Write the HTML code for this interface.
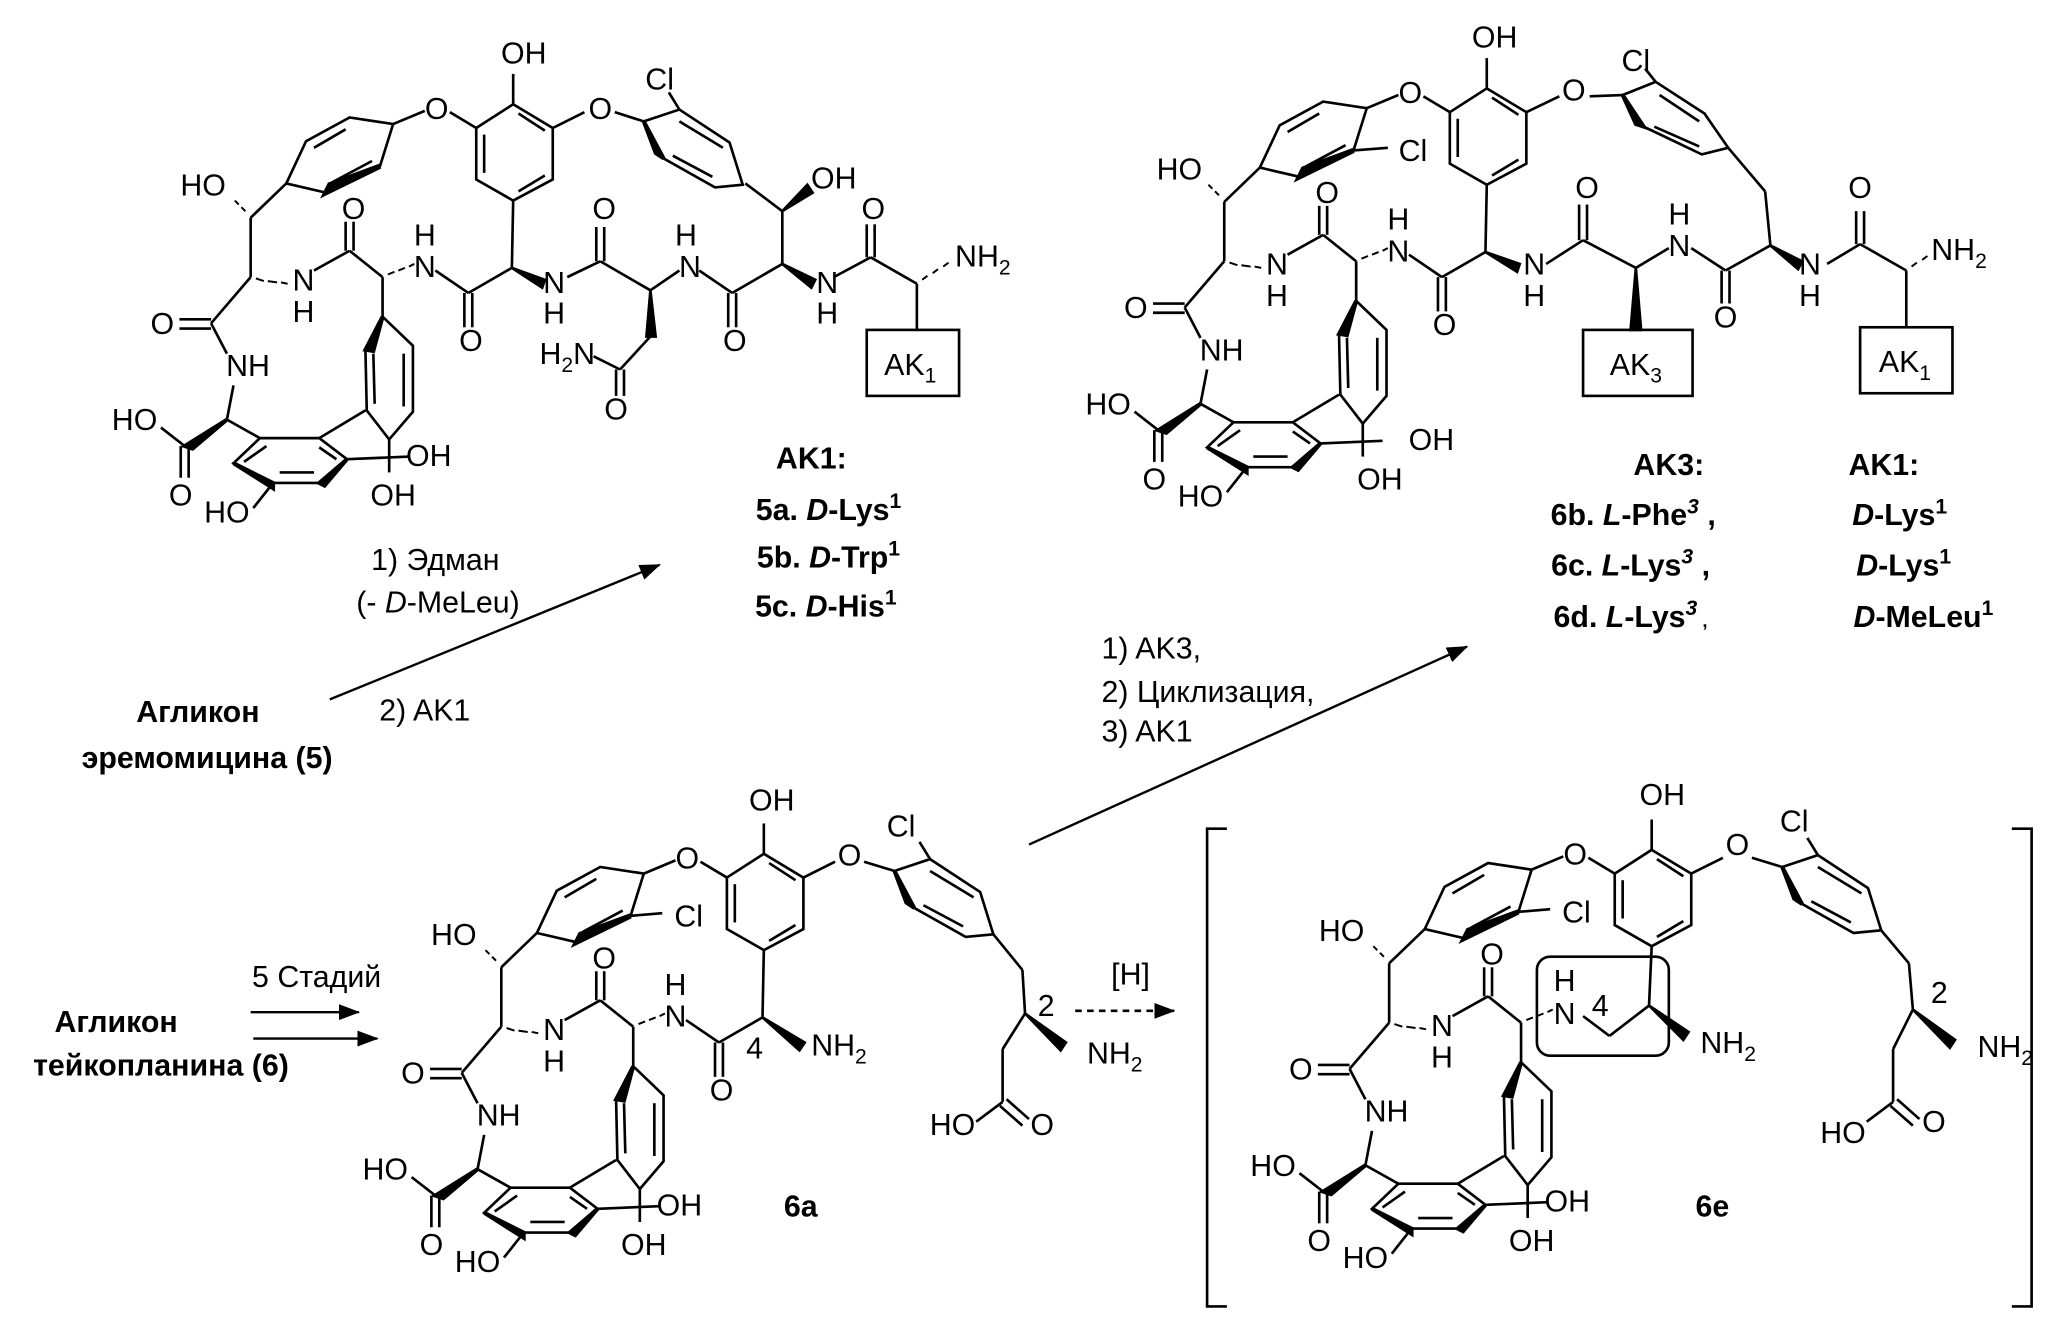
<!DOCTYPE html>
<html><head><meta charset="utf-8"><style>
html,body{margin:0;padding:0;background:#fff}
svg{display:block}
text{font-family:"Liberation Sans Narrow","Liberation Sans","DejaVu Sans",sans-serif;font-size:23px;fill:#000;text-anchor:middle}
.b{font-weight:bold}
.l{text-anchor:start}
</style></head><body>
<svg width="2058" height="1317" viewBox="0 0 1560 998" preserveAspectRatio="none" xmlns="http://www.w3.org/2000/svg">
<defs>
<marker id="ah2" markerWidth="16" markerHeight="12" refX="15" refY="6" orient="auto" markerUnits="userSpaceOnUse"><path d="M0,0 L16,6 L0,12 z"/></marker>
<g id="core" fill="none" stroke="#000" stroke-width="2">
 <polygon points="217,139 232,107 265,89 298,94 288,126 247,146"/>
 <line x1="238" y1="112" x2="262" y2="98"/><line x1="282" y1="122" x2="252" y2="138"/>
 <polygon points="288,126 247,146 250,140" fill="#000" stroke-width="4"/>
 <line x1="298" y1="94" x2="322" y2="84"/><line x1="341" y1="85" x2="361" y2="97"/>
 <polygon points="389,79 419,97 419,136 389,152 361,136 361,97"/>
 <line x1="367" y1="102" x2="367" y2="131"/><line x1="393" y1="86" x2="413" y2="99"/><line x1="413" y1="133" x2="393" y2="145"/>
 <line x1="389" y1="79" x2="389" y2="56"/>
 <line x1="217" y1="139" x2="190" y2="165"/>
 <line x1="186" y1="160" x2="183" y2="157" stroke-width="1.5"/><line x1="181" y1="155" x2="178" y2="152" stroke-width="1.5"/>
 <line x1="190" y1="165" x2="190" y2="210"/>
 <line x1="194" y1="211" x2="200" y2="213" stroke-width="1.5"/><line x1="203" y1="213" x2="210" y2="214" stroke-width="1.5"/><line x1="213" y1="214" x2="218" y2="215" stroke-width="1.5"/>
 <line x1="190" y1="210" x2="160" y2="245"/>
 <line x1="160" y1="242" x2="136" y2="242"/><line x1="160" y1="249" x2="136" y2="249"/>
 <line x1="160" y1="245" x2="172" y2="268"/>
 <line x1="177" y1="292" x2="172" y2="318"/>
 <polygon points="172,318 140,338 146,340" fill="#000" stroke-width="3"/>
 <line x1="140" y1="338" x2="122" y2="324"/>
 <line x1="137" y1="338" x2="137" y2="362"/><line x1="143" y1="338" x2="143" y2="362"/>
 <line x1="172" y1="318" x2="197" y2="332"/>
 <polygon points="197,332 242,332 263,348 242,366 207,366 177,351"/>
 <line x1="202" y1="338" x2="185" y2="350"/><line x1="212" y1="358" x2="238" y2="358"/><line x1="242" y1="339" x2="255" y2="348"/>
 <polygon points="177,351 207,366 207,370" fill="#000" stroke-width="3"/>
 <polygon points="263,348 242,366 246,368" fill="#000" stroke-width="3"/>
 <line x1="207" y1="366" x2="192" y2="385"/>
 <line x1="263" y1="348" x2="310" y2="346"/>
 <polygon points="290,240 313,262 313,312 295,333 278,311 277,265"/>
 <line x1="306" y1="268" x2="306" y2="308"/><line x1="283" y1="268" x2="284" y2="306"/>
 <polygon points="277,265 290,240 283,266" fill="#000" stroke-width="3"/>
 <line x1="242" y1="332" x2="277" y2="311"/>
 <line x1="295" y1="333" x2="295" y2="358"/>
 <line x1="290" y1="240" x2="290" y2="210"/>
 <line x1="238" y1="205" x2="265" y2="190"/>
 <line x1="262" y1="190" x2="262" y2="168"/><line x1="268" y1="190" x2="268" y2="168"/>
 <line x1="265" y1="190" x2="290" y2="210"/>
 <line x1="294" y1="208" x2="299" y2="206" stroke-width="1.5"/><line x1="302" y1="205" x2="307" y2="203" stroke-width="1.5"/><line x1="310" y1="202" x2="314" y2="200" stroke-width="1.5"/>
</g>
</defs>

<!-- ============ Structure 1 ============ -->
<use href="#core"/>
<g fill="none" stroke="#000" stroke-width="2">
 <line x1="330" y1="205" x2="355" y2="222"/>
 <line x1="352" y1="222" x2="352" y2="248"/><line x1="358" y1="222" x2="358" y2="248"/>
 <line x1="355" y1="222" x2="388" y2="203"/>
 <line x1="388" y1="203" x2="389" y2="152"/>
 <polygon points="388,203 413,212 411,218" fill="#000"/>
 <line x1="430" y1="210" x2="455" y2="198"/>
 <line x1="452" y1="198" x2="452" y2="172"/><line x1="458" y1="198" x2="458" y2="172"/>
 <line x1="455" y1="198" x2="493" y2="220"/>
 <polygon points="493,220 490,255 497,255" fill="#000"/>
 <line x1="493" y1="255" x2="470" y2="280"/>
 <line x1="470" y1="280" x2="450" y2="270"/>
 <line x1="467" y1="280" x2="467" y2="300"/><line x1="473" y1="280" x2="473" y2="300"/>
 <line x1="493" y1="220" x2="515" y2="205"/>
 <line x1="530" y1="205" x2="555" y2="222"/>
 <line x1="552" y1="222" x2="552" y2="248"/><line x1="558" y1="222" x2="558" y2="248"/>
 <line x1="555" y1="222" x2="593" y2="200"/>
 <line x1="593" y1="200" x2="593" y2="160"/>
 <polygon points="593,160 612,140 616,146" fill="#000"/>
 <line x1="593" y1="160" x2="565" y2="139"/>
 <polygon points="593,200 618,212 615,218" fill="#000"/>
 <polygon points="488,92 515,83 553,108 563,140 542,142 503,120"/>
 <line x1="515" y1="92" x2="548" y2="112"/><line x1="510" y1="118" x2="540" y2="134"/>
 <polygon points="488,92 503,120 497,116" fill="#000" stroke-width="3"/>
 <line x1="515" y1="83" x2="507" y2="70"/>
 <line x1="419" y1="97" x2="443" y2="85"/><line x1="466" y1="85" x2="488" y2="92"/>
 <line x1="632" y1="210" x2="660" y2="195"/>
 <line x1="657" y1="195" x2="657" y2="170"/><line x1="663" y1="195" x2="663" y2="170"/>
 <line x1="660" y1="195" x2="695" y2="215"/>
 <line x1="699" y1="212" x2="703" y2="209" stroke-width="1.5"/><line x1="707" y1="207" x2="711" y2="204" stroke-width="1.5"/><line x1="715" y1="202" x2="719" y2="199" stroke-width="1.5"/>
 <line x1="695" y1="215" x2="695" y2="250"/>
 <rect x="657" y="250" width="70" height="50"/>
</g>
<g>
 <text x="397" y="48">OH</text><text x="331" y="90">O</text><text x="455" y="90">O</text><text x="500" y="68">Cl</text>
 <text x="154" y="148">HO</text><text x="632" y="143">OH</text>
 <text x="268" y="166">O</text><text x="322" y="186">H</text><text x="322" y="210">N</text>
 <text x="458" y="166">O</text><text x="520" y="186">H</text><text x="523" y="210">N</text>
 <text x="662" y="166">O</text>
 <text x="230" y="220">N</text><text x="230" y="244">H</text>
 <text x="420" y="222">N</text><text x="420" y="245">H</text>
 <text x="627" y="222">N</text><text x="627" y="245">H</text>
 <text x="357" y="266">O</text><text x="557" y="266">O</text>
 <text x="745" y="202">NH<tspan font-size="16" dy="6">2</tspan></text>
 <text x="430" y="276">H<tspan font-size="16" dy="6">2</tspan><tspan dy="-6">N</tspan></text>
 <text x="467" y="318">O</text>
 <text x="690" y="284">AK<tspan font-size="16" dy="6">1</tspan></text>
 <text x="123" y="253">O</text><text x="188" y="285">NH</text>
 <text x="102" y="326">HO</text><text x="137" y="383">O</text><text x="172" y="396">HO</text>
 <text x="325" y="353">OH</text><text x="298" y="383">OH</text>
 <text class="b" x="615" y="355">AK1:</text>
 <text class="b" x="628" y="394">5a. <tspan font-style="italic">D</tspan>-Lys<tspan font-size="16" dy="-9">1</tspan></text>
 <text class="b" x="628" y="430">5b. <tspan font-style="italic">D</tspan>-Trp<tspan font-size="16" dy="-9">1</tspan></text>
 <text class="b" x="626" y="467">5c. <tspan font-style="italic">D</tspan>-His<tspan font-size="16" dy="-9">1</tspan></text>
 <text x="330" y="432">1) Эдман</text>
 <text x="332" y="464">(- <tspan font-style="italic">D</tspan>-MeLeu)</text>
 <text x="322" y="546">2) AK1</text>
 <text class="b" x="150" y="547">Агликон</text>
 <text class="b" x="157" y="582">эремомицина (5)</text>
</g>
<line x1="250" y1="530" x2="500" y2="428" stroke="#000" stroke-width="1.8" marker-end="url(#ah2)"/>

<!-- ============ Structure 2 ============ -->
<use href="#core" transform="translate(738,-12)"/>
<g fill="none" stroke="#000" stroke-width="2">
 <line x1="1026" y1="114" x2="1052" y2="112"/>
 <line x1="1068" y1="193" x2="1093" y2="210"/>
 <line x1="1090" y1="210" x2="1090" y2="236"/><line x1="1096" y1="210" x2="1096" y2="236"/>
 <line x1="1093" y1="210" x2="1126" y2="191"/>
 <line x1="1126" y1="191" x2="1127" y2="140"/>
 <polygon points="1126,191 1152,200 1150,206" fill="#000"/>
 <line x1="1172" y1="200" x2="1200" y2="182"/>
 <line x1="1197" y1="182" x2="1197" y2="155"/><line x1="1203" y1="182" x2="1203" y2="155"/>
 <line x1="1200" y1="182" x2="1240" y2="203"/>
 <polygon points="1240,203 1236,250 1244,250" fill="#000"/>
 <line x1="1240" y1="203" x2="1265" y2="188"/>
 <line x1="1282" y1="188" x2="1308" y2="205"/>
 <line x1="1305" y1="205" x2="1305" y2="230"/><line x1="1311" y1="205" x2="1311" y2="230"/>
 <line x1="1308" y1="205" x2="1342" y2="186"/>
 <line x1="1342" y1="186" x2="1338" y2="145"/><line x1="1338" y1="145" x2="1310" y2="112"/>
 <polygon points="1342,186 1366,198 1363,204" fill="#000"/>
 <rect x="1200" y="250" width="83" height="50"/>
 <polygon points="1230,72 1255,62 1292,86 1310,112 1290,117 1246,96"/>
 <line x1="1258" y1="72" x2="1288" y2="92"/><line x1="1254" y1="96" x2="1288" y2="111"/>
 <polygon points="1230,72 1246,96 1240,94" fill="#000" stroke-width="3"/>
 <line x1="1255" y1="62" x2="1247" y2="52"/>
 <line x1="1157" y1="85" x2="1182" y2="73"/><line x1="1205" y1="73" x2="1230" y2="72"/>
 <line x1="1385" y1="200" x2="1410" y2="185"/>
 <line x1="1407" y1="185" x2="1407" y2="160"/><line x1="1413" y1="185" x2="1413" y2="160"/>
 <line x1="1410" y1="185" x2="1445" y2="205"/>
 <line x1="1449" y1="202" x2="1453" y2="199" stroke-width="1.5"/><line x1="1457" y1="197" x2="1461" y2="194" stroke-width="1.5"/>
 <line x1="1445" y1="205" x2="1445" y2="248"/>
 <rect x="1410" y="248" width="70" height="50"/>
</g>
<g>
 <text x="1133" y="36">OH</text><text x="1069" y="78">O</text><text x="1193" y="76">O</text><text x="1240" y="54">Cl</text><text x="1071" y="122">Cl</text>
 <text x="894" y="136">HO</text>
 <text x="1006" y="154">O</text><text x="1060" y="174">H</text><text x="1060" y="198">N</text>
 <text x="968" y="208">N</text><text x="968" y="232">H</text>
 <text x="1095" y="254">O</text>
 <text x="1163" y="208">N</text><text x="1163" y="232">H</text>
 <text x="1203" y="150">O</text>
 <text x="1273" y="170">H</text><text x="1273" y="194">N</text>
 <text x="1308" y="248">O</text>
 <text x="1372" y="208">N</text><text x="1372" y="232">H</text>
 <text x="1410" y="150">O</text>
 <text x="1485" y="197">NH<tspan font-size="16" dy="6">2</tspan></text>
 <text x="1240" y="284">AK<tspan font-size="16" dy="6">3</tspan></text>
 <text x="1444" y="282">AK<tspan font-size="16" dy="6">1</tspan></text>
 <text x="861" y="241">O</text><text x="926" y="273">NH</text>
 <text x="840" y="314">HO</text><text x="875" y="371">O</text><text x="910" y="384">HO</text>
 <text x="1085" y="341">OH</text><text x="1046" y="371">OH</text>
 <text class="b" x="1265" y="360">AK3:</text><text class="b" x="1428" y="360">AK1:</text>
 <text class="b" x="1238" y="398">6b. <tspan font-style="italic">L</tspan>-Phe<tspan font-size="16" dy="-9" font-style="italic">3</tspan><tspan dy="9"> ,</tspan></text>
 <text class="b" x="1440" y="398"><tspan font-style="italic">D</tspan>-Lys<tspan font-size="16" dy="-9">1</tspan></text>
 <text class="b" x="1236" y="436">6c. <tspan font-style="italic">L</tspan>-Lys<tspan font-size="16" dy="-9" font-style="italic">3</tspan><tspan dy="9"> ,</tspan></text>
 <text class="b" x="1443" y="436"><tspan font-style="italic">D</tspan>-Lys<tspan font-size="16" dy="-9">1</tspan></text>
 <text class="b" x="1236" y="475">6d. <tspan font-style="italic">L</tspan>-Lys<tspan font-size="16" dy="-9" font-style="italic">3</tspan><tspan dy="9" font-size="14"> ,</tspan></text>
 <text class="b" x="1458" y="475"><tspan font-style="italic">D</tspan>-MeLeu<tspan font-size="16" dy="-9">1</tspan></text>
 <text class="l" x="835" y="499">1) AK3,</text>
 <text class="l" x="835" y="532">2) Циклизация,</text>
 <text class="l" x="835" y="562">3) AK1</text>
</g>
<line x1="780" y1="640" x2="1112" y2="490" stroke="#000" stroke-width="1.8" marker-end="url(#ah2)"/>

<!-- ============ Structure 3 (6a) ============ -->
<use href="#core" transform="translate(190,568)"/>
<g fill="none" stroke="#000" stroke-width="2">
 <line x1="478" y1="694" x2="502" y2="692"/>
 <line x1="520" y1="773" x2="545" y2="790"/>
 <line x1="542" y1="790" x2="542" y2="816"/><line x1="548" y1="790" x2="548" y2="816"/>
 <line x1="545" y1="790" x2="578" y2="771"/>
 <line x1="578" y1="771" x2="579" y2="720"/>
 <polygon points="578,771 610,790 606,796" fill="#000"/>
 <polygon points="678,660 705,651 743,676 753,708 732,710 693,688"/>
 <line x1="705" y1="660" x2="738" y2="680"/><line x1="700" y1="686" x2="730" y2="702"/>
 <polygon points="678,660 693,688 687,684" fill="#000" stroke-width="3"/>
 <line x1="705" y1="651" x2="697" y2="638"/>
 <line x1="609" y1="665" x2="633" y2="653"/><line x1="655" y1="653" x2="678" y2="660"/>
 <line x1="753" y1="708" x2="775" y2="735"/><line x1="775" y1="735" x2="777" y2="768"/>
 <polygon points="777,768 808,790 804,796" fill="#000"/>
 <line x1="777" y1="768" x2="760" y2="795"/><line x1="760" y1="795" x2="760" y2="835"/>
 <line x1="760" y1="835" x2="740" y2="850"/>
 <line x1="758" y1="838" x2="775" y2="853"/><line x1="763" y1="833" x2="780" y2="848"/>
</g>
<line x1="815" y1="766" x2="890" y2="766" stroke="#000" stroke-width="2" stroke-dasharray="5,4" marker-end="url(#ah2)"/>
<g>
 <text x="585" y="614">OH</text><text x="521" y="658">O</text><text x="644" y="656">O</text><text x="683" y="634">Cl</text><text x="522" y="702">Cl</text>
 <text x="344" y="716">HO</text>
 <text x="458" y="734">O</text><text x="512" y="754">H</text><text x="512" y="778">N</text>
 <text x="420" y="788">N</text><text x="420" y="812">H</text>
 <text x="547" y="834">O</text>
 <text x="572" y="802">4</text>
 <text x="636" y="800">NH<tspan font-size="16" dy="6">2</tspan></text>
 <text x="313" y="821">O</text><text x="378" y="853">NH</text>
 <text x="292" y="894">HO</text><text x="327" y="951">O</text><text x="362" y="964">HO</text>
 <text x="515" y="921">OH</text><text x="488" y="951">OH</text>
 <text class="b" x="607" y="922">6a</text>
 <text x="793" y="770">2</text>
 <text x="845" y="806">NH<tspan font-size="16" dy="6">2</tspan></text>
 <text x="722" y="860">HO</text><text x="790" y="860">O</text>
 <text x="857" y="746">[H]</text>
 <text x="240" y="748">5 Стадий</text>
 <text class="b" x="88" y="782">Агликон</text>
 <text class="b" x="122" y="815">тейкопланина (6)</text>
</g>
<line x1="190" y1="767" x2="272" y2="767" stroke="#000" stroke-width="1.8" marker-end="url(#ah2)"/>
<line x1="192" y1="787" x2="286" y2="787" stroke="#000" stroke-width="1.8" marker-end="url(#ah2)"/>

<!-- ============ Structure 4 (6e) ============ -->
<use href="#core" transform="translate(863,565)"/>
<g fill="none" stroke="#000" stroke-width="2">
 <line x1="1151" y1="691" x2="1175" y2="689"/>
 <line x1="1200" y1="770" x2="1220" y2="785"/>
 <line x1="1220" y1="785" x2="1250" y2="762"/>
 <line x1="1250" y1="762" x2="1252" y2="717"/>
 <polygon points="1250,762 1280,782 1276,788" fill="#000"/>
 <rect x="1165" y="725" width="100" height="75" rx="10"/>
 <polygon points="1351,657 1378,648 1416,673 1426,705 1405,707 1366,685"/>
 <line x1="1378" y1="657" x2="1411" y2="677"/><line x1="1373" y1="683" x2="1403" y2="699"/>
 <polygon points="1351,657 1366,685 1360,681" fill="#000" stroke-width="3"/>
 <line x1="1378" y1="648" x2="1370" y2="635"/>
 <line x1="1282" y1="662" x2="1306" y2="650"/><line x1="1328" y1="650" x2="1351" y2="657"/>
 <line x1="1426" y1="705" x2="1447" y2="730"/><line x1="1447" y1="730" x2="1450" y2="765"/>
 <polygon points="1450,765 1482,788 1478,794" fill="#000"/>
 <line x1="1450" y1="765" x2="1435" y2="795"/><line x1="1435" y1="795" x2="1435" y2="835"/>
 <line x1="1435" y1="835" x2="1415" y2="850"/>
 <line x1="1433" y1="838" x2="1450" y2="853"/><line x1="1438" y1="833" x2="1455" y2="848"/>
 <polyline points="930,628 915,628 915,990 930,990"/>
 <polyline points="1525,628 1540,628 1540,990 1525,990"/>
</g>
<g>
 <text x="1260" y="610">OH</text><text x="1194" y="655">O</text><text x="1317" y="648">O</text><text x="1360" y="630">Cl</text><text x="1195" y="699">Cl</text>
 <text x="1017" y="713">HO</text>
 <text x="1131" y="731">O</text><text x="1186" y="751">H</text><text x="1186" y="776">N</text>
 <text x="1213" y="770">4</text>
 <text x="1093" y="785">N</text><text x="1093" y="809">H</text>
 <text x="1310" y="798">NH<tspan font-size="16" dy="6">2</tspan></text>
 <text x="986" y="818">O</text><text x="1051" y="850">NH</text>
 <text x="965" y="891">HO</text><text x="1000" y="948">O</text><text x="1035" y="961">HO</text>
 <text x="1188" y="918">OH</text><text x="1161" y="948">OH</text>
 <text class="b" x="1298" y="922">6e</text>
 <text x="1470" y="760">2</text>
 <text x="1520" y="801">NH<tspan font-size="16" dy="6">2</tspan></text>
 <text x="1397" y="866">HO</text><text x="1466" y="858">O</text>
</g>
</svg>
</body></html>
